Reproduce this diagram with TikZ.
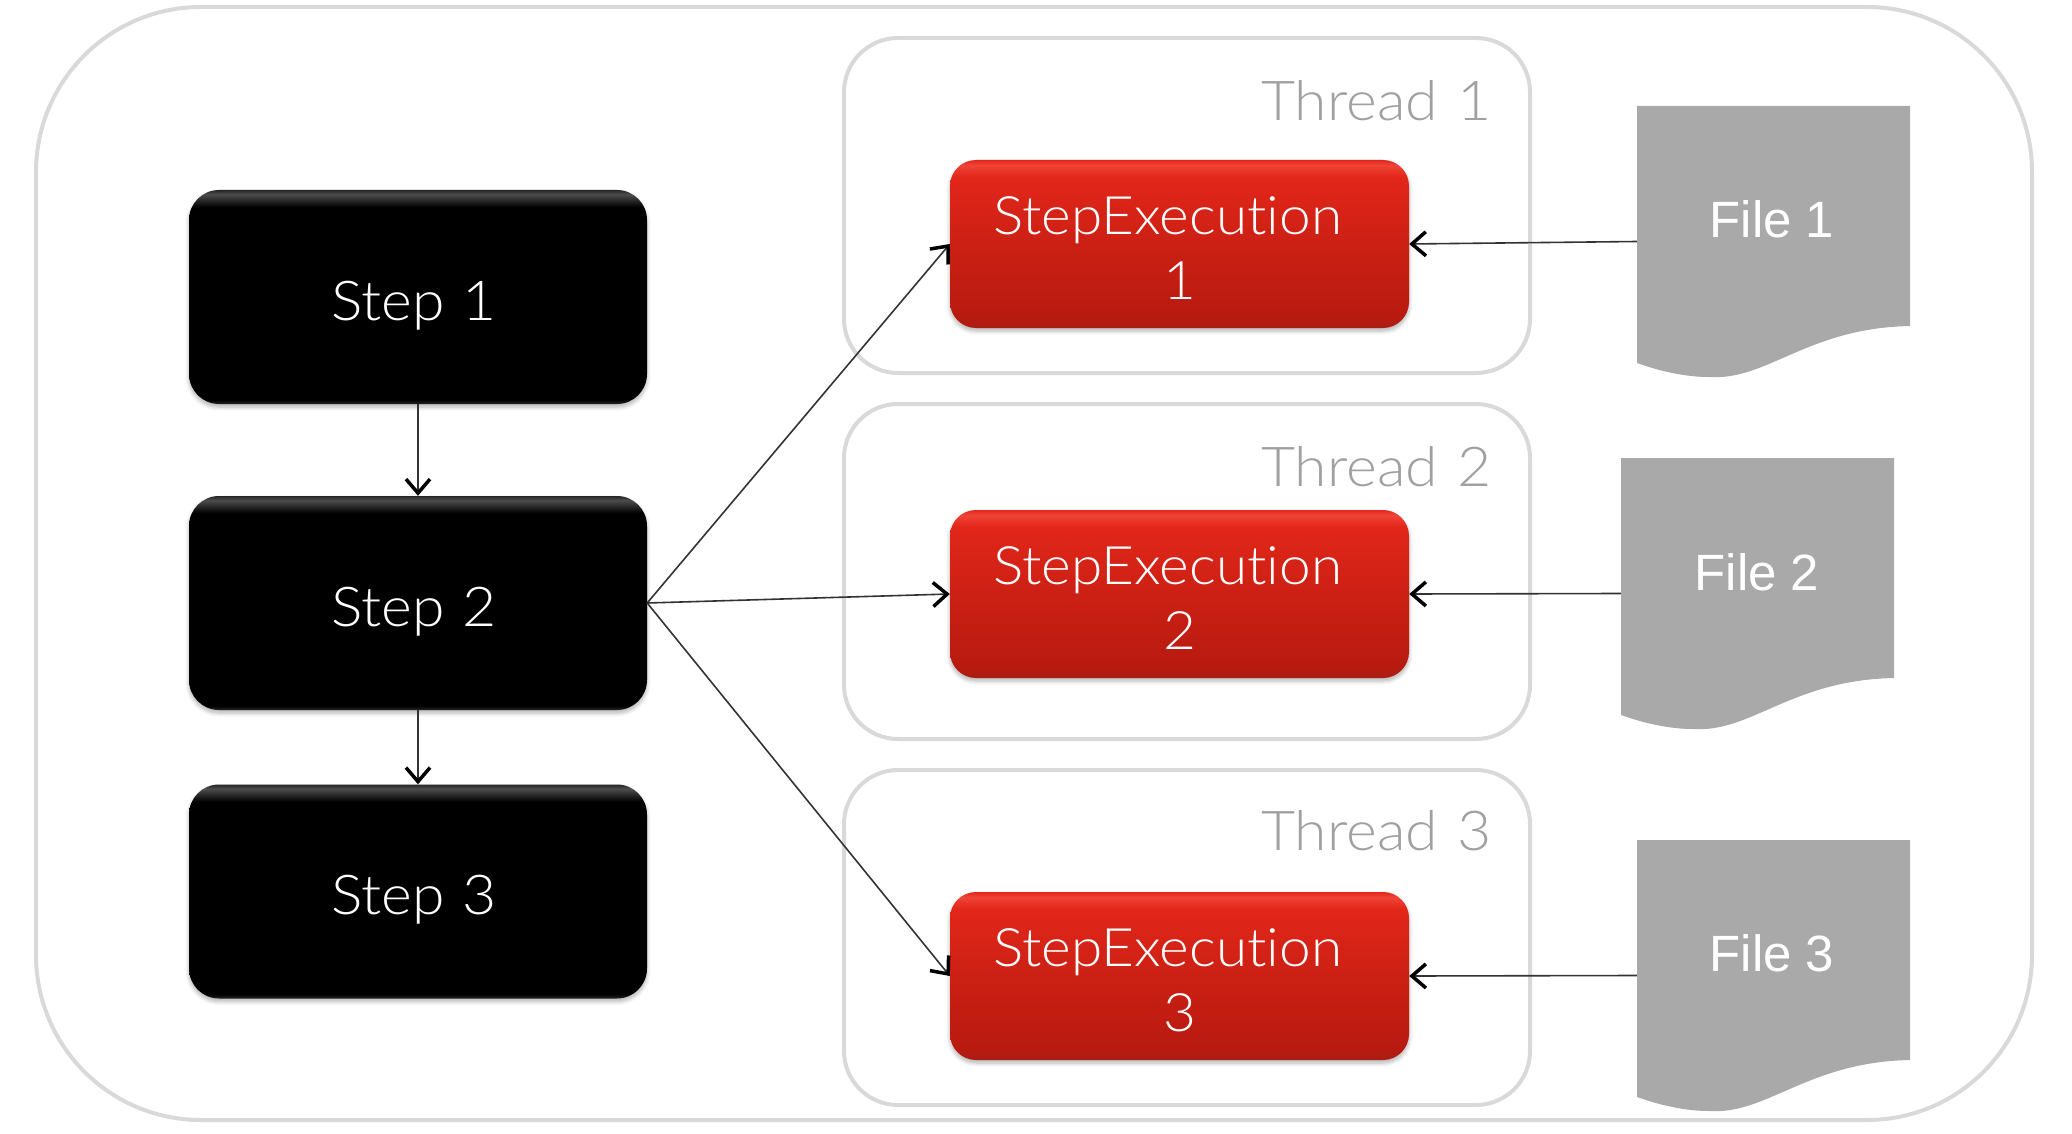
\documentclass[tikz,border=0pt]{standalone}
\usepackage{fontspec}
\setmainfont[FakeStretch=1.07,Ligatures=NoCommon]{Lato Light}
\newfontfamily\filefont{Liberation Sans}
\usetikzlibrary{arrows.meta,shadows.blur}
\pgfdeclareverticalshading{blackbox}{100bp}{
  color(0bp)=(black); color(25bp)=(black!85!white); color(26bp)=(black); color(71bp)=(black);
  color(74bp)=(black!70!white); color(75bp)=(black!85!white); color(100bp)=(black)}
\definecolor{redA}{HTML}{A81E14}
\definecolor{redB}{HTML}{B81A10}
\definecolor{redC}{HTML}{CC2014}
\definecolor{redD}{HTML}{E2261A}
\definecolor{redE}{HTML}{F04438}
\pgfdeclareverticalshading{redbox}{100bp}{
  color(0bp)=(redA); color(25bp)=(redA); color(28bp)=(redB); color(50bp)=(redC);
  color(70bp)=(redD); color(73.5bp)=(redE); color(75bp)=(redD); color(100bp)=(redD)}
\definecolor{frameline}{HTML}{D9D9D9}
\definecolor{threadtext}{HTML}{A0A0A0}
\definecolor{filegray}{HTML}{A9A9A9}
\definecolor{linkline}{HTML}{333333}
\tikzset{
  x=1pt,y=-1pt,
  bigfont/.style={font=\fontsize{55}{65}\selectfont},
  outerframe/.style={draw=frameline,line width=4pt,rounded corners=165pt,minimum width=1996pt,minimum height=1113pt,inner sep=0pt},
  threadframe/.style={draw=frameline,line width=4pt,rounded corners=54pt,minimum width=686pt,minimum height=335pt,inner sep=0pt},
  threadlabel/.style={bigfont,text=threadtext,anchor=base west,inner sep=0pt},
  stepbox/.style={shading=blackbox,rounded corners=30pt,minimum width=458pt,minimum height=214pt,inner sep=0pt,
    bigfont,text=white,text height=46pt,text depth=0pt,
    blur shadow={shadow xshift=0pt,shadow yshift=-3pt,shadow blur radius=4pt,shadow blur steps=6,shadow opacity=30}},
  execbox/.style={shading=redbox,rounded corners=26pt,minimum width=459pt,minimum height=168pt,inner sep=0pt,
    font=\fontsize{53}{65}\selectfont,text=white,align=center,
    blur shadow={shadow xshift=0pt,shadow yshift=-3pt,shadow blur radius=4pt,shadow blur steps=6,shadow opacity=30}},
  filebox/.style={minimum width=273pt,minimum height=271pt,inner sep=0pt},
  filelabel/.style={font=\filefont\fontsize{51}{60}\selectfont,text=white,inner sep=0pt},
  link/.style={draw=linkline,line width=1.6pt,-{Straight Barb[length=14pt,width=24pt,line width=3.5pt,color=black]}},
  filepaper/.pic={\fill[filegray] (0,0) -- (273,0) -- (273,220) .. controls (170,222) and (130,275) .. (72,271)
     .. controls (50,271) and (25,266) .. (0,257) -- cycle;}
}
\begin{document}
\begin{tikzpicture}
\useasboundingbox (0,0) rectangle (2072,1134);
\node[outerframe] (outer) at (1034,563.5) {};
\node[threadframe] (t1) at (1187,205.5) {};
\node[threadframe] (t2) at (1187,571.5) {};
\node[threadframe] (t3) at (1187,937.5) {};
\node[threadlabel] (tl1) at (1261,121) {Thread\hspace{20pt}1};
\node[threadlabel] (tl2) at (1261,486) {Thread\hspace{20pt}2};
\node[threadlabel] (tl3) at (1261,850) {Thread\hspace{20pt}3};
\node[stepbox] (s1) at (418,297) {Step\hspace{18pt}1\hspace*{8pt}};
\node[stepbox] (s2) at (418,603) {Step\hspace{18pt}2\hspace*{8pt}};
\node[stepbox] (s3) at (418,891.5) {Step\hspace{18pt}3\hspace*{8pt}};
\node[execbox] (r1) at (1179.5,244) {\rule{0pt}{46pt}StepExecution\hspace*{24pt}\\1};
\node[execbox] (r2) at (1179.5,594) {\rule{0pt}{46pt}StepExecution\hspace*{24pt}\\2};
\node[execbox] (r3) at (1179.5,976) {\rule{0pt}{46pt}StepExecution\hspace*{24pt}\\3};
\pic at (1637,106) {filepaper};
\pic at (1621,458) {filepaper};
\pic at (1637,840) {filepaper};
\node[filebox] (f1) at (1773.5,241.5) {};
\node[filebox] (f2) at (1757.5,593.5) {};
\node[filebox] (f3) at (1773.5,975.5) {};
\node[filelabel] (fl1) at (1772,219) {File 1};
\node[filelabel] (fl2) at (1757,572) {File 2};
\node[filelabel] (fl3) at (1772,953) {File 3};
\draw[link] (s1) -- (s2);
\draw[link] (s2) -- (s3);
\draw[link] (s2.east) -- (r1.west);
\draw[link] (s2.east) -- (r2.west);
\draw[link] (s2.east) -- (r3.west);
\draw[link] (f1.west) -- (r1.east);
\draw[link] (f2.west) -- (r2.east);
\draw[link] (f3.west) -- (r3.east);
\end{tikzpicture}
\end{document}
